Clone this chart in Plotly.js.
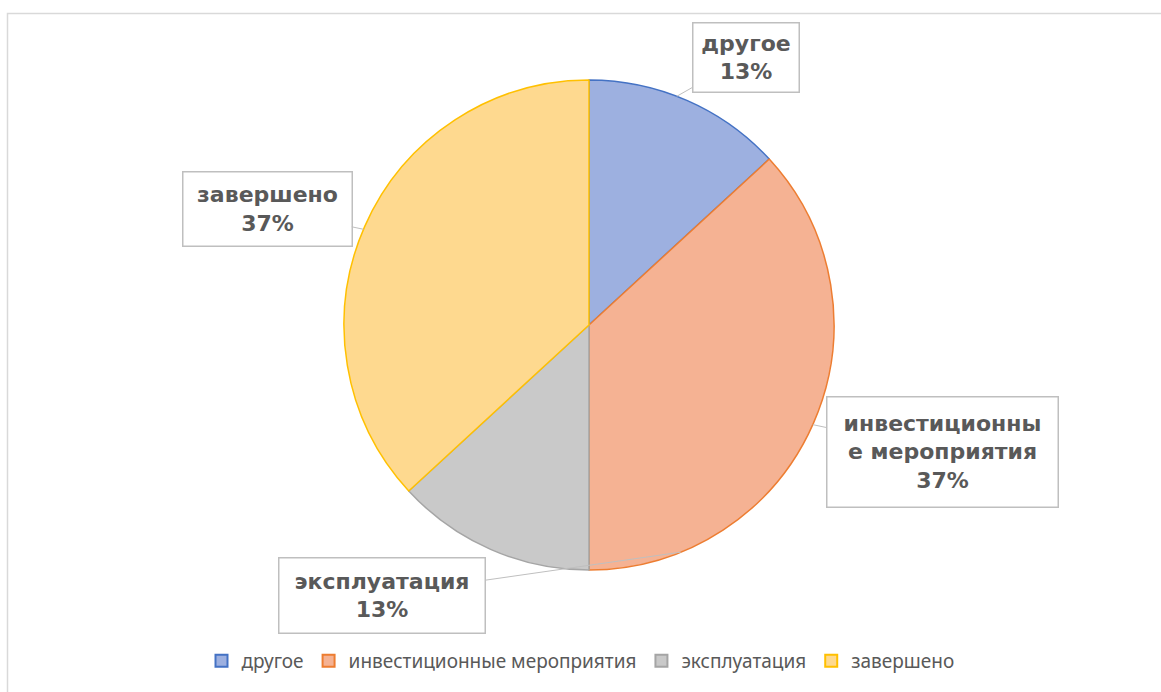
<!DOCTYPE html>
<html>
<head>
<meta charset="utf-8">
<script src="https://cdn.plot.ly/plotly-3.0.1.min.js"></script>
<style>html,body{margin:0;padding:0;background:#fff;}#chart{width:1161px;height:692px;}</style>
</head>
<body>
<div id="chart"></div>
<script>
const categories = ["другое", "инвестиционные мероприятия", "эксплуатация", "завершено"];
const boxLabels = ["другое", "инвестиционны<br>е мероприятия", "эксплуатация", "завершено"];
const values = [5, 14, 5, 14];
const fillColors = ["#9DB0E0", "#F5B293", "#C9C9C9", "#FED98F"];
const lineColors = ["#4472C4", "#ED7D31", "#A5A5A5", "#FFC000"];

const W = 1161, H = 692;
const cx = 589, cy = 325, R = 245;
const total = values.reduce((a, b) => a + b, 0);
const pct = values.map(v => Math.round(v / total * 100) + "%");

// label placement (pixel centres of boxes, and pointer tips on the arc)
const boxes = [
  {cx: 746, cy: 57, w: 107, h: 70, tipAngle: 21},
  {cx: 942, cy: 452, w: 232, h: 111, tipAngle: 114},
  {cx: 382, cy: 595, w: 207, h: 76, tipAngle: 158},
  {cx: 267, cy: 209, w: 170, h: 75, tipAngle: 293}
];
const px = x => x / W, py = y => 1 - y / H;

const annotations = boxes.map((b, i) => {
  const a = b.tipAngle * Math.PI / 180;
  const tx = cx + R * Math.sin(a), ty = cy - R * Math.cos(a);
  return {
    xref: "paper", yref: "paper",
    x: px(tx), y: py(ty),
    ax: b.cx - tx, ay: b.cy - ty,
    showarrow: true, arrowhead: 0, arrowwidth: 1, arrowcolor: "#BFBFBF",
    text: "<b>" + boxLabels[i] + "<br>" + pct[i] + "</b>",
    font: {family: "DejaVu Sans, Liberation Sans, sans-serif", size: 22, color: "#595959"},
    align: "center",
    bgcolor: "#FFFFFF", bordercolor: "#BFBFBF", borderwidth: 1.5,
    width: b.w - 4, height: b.h - 4, borderpad: 1
  };
});

const trace = {
  type: "pie",
  labels: categories,
  values: values,
  sort: false,
  direction: "clockwise",
  rotation: 0,
  textinfo: "none",
  hoverinfo: "label+percent",
  marker: {colors: fillColors, line: {color: lineColors, width: 1.5}},
  domain: {x: [(cx - R) / W, (cx + R) / W], y: [1 - (cy + R) / H, 1 - (cy - R) / H]}
};

const layout = {
  width: W, height: H,
  margin: {l: 0, r: 0, t: 0, b: 0},
  paper_bgcolor: "#FFFFFF",
  showlegend: true,
  legend: {
    orientation: "h", x: 0.5, xanchor: "center", y: py(661), yanchor: "middle",
    font: {family: "Noto Sans, Open Sans, sans-serif", size: 19, color: "#595959"},
    itemwidth: 30, itemsizing: "constant", traceorder: "normal"
  },
  annotations: annotations,
  shapes: [{
    type: "rect", xref: "paper", yref: "paper",
    x0: px(7.5), x1: px(1170), y0: py(13.5), y1: py(700),
    line: {color: "#D9D9D9", width: 1.5}, fillcolor: "rgba(0,0,0,0)"
  }]
};

Plotly.newPlot("chart", [trace], layout, {displayModeBar: false, staticPlot: true});
</script>
</body>
</html>
